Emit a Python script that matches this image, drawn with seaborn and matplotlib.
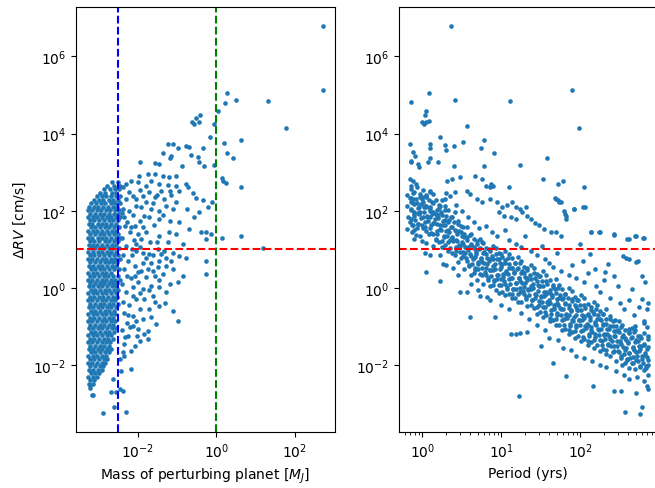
import numpy as np
import pandas as pd
from matplotlib import pyplot as plt
import seaborn as sns

# all values are log10

# left panel, dense blob of small planets: (log dRV, [log mass, ...]) per row
left_core_rows = [
    (2.74, [-2.66, -2.50]),
    (2.65, [-2.78, -2.59, -2.45]),
    (2.56, [-2.86, -2.71, -2.57, -2.47]),
    (2.47, [-2.97, -2.83, -2.66, -2.54]),
    (2.38, [-3.04, -2.91, -2.80, -2.67, -2.55, -2.44]),
    (2.29, [-3.12, -2.99, -2.88, -2.73, -2.62, -2.50]),
    (2.20, [-3.18, -3.05, -2.94, -2.83, -2.69, -2.57, -2.46]),
    (2.11, [-3.23, -3.11, -3.00, -2.87, -2.76, -2.64, -2.52]),
    (2.02, [-3.26, -3.16, -3.03, -2.93, -2.80, -2.70, -2.58, -2.47]),
    (1.93, [-3.21, -3.09, -2.97, -2.86, -2.74, -2.61, -2.51]),
    (1.84, [-3.27, -3.14, -3.04, -2.91, -2.79, -2.68, -2.55, -2.45]),
    (1.75, [-3.22, -3.10, -2.98, -2.85, -2.73, -2.62, -2.50]),
    (1.66, [-3.25, -3.15, -3.02, -2.90, -2.80, -2.67, -2.56]),
    (1.57, [-3.20, -3.08, -2.96, -2.84, -2.72, -2.59, -2.48]),
    (1.48, [-3.26, -3.13, -3.03, -2.92, -2.78, -2.66, -2.54]),
    (1.39, [-3.22, -3.09, -2.97, -2.86, -2.74, -2.61, -2.49]),
    (1.30, [-3.27, -3.15, -3.02, -2.90, -2.80, -2.68, -2.56, -2.45]),
    (1.21, [-3.21, -3.10, -2.98, -2.84, -2.72, -2.60, -2.50]),
    (1.12, [-3.25, -3.13, -3.04, -2.91, -2.79, -2.66, -2.54]),
    (1.03, [-3.20, -3.08, -2.95, -2.85, -2.73, -2.62, -2.48]),
    (0.94, [-3.26, -3.14, -3.01, -2.90, -2.77, -2.67, -2.55]),
    (0.85, [-3.22, -3.10, -2.98, -2.86, -2.74, -2.61, -2.50]),
    (0.76, [-3.27, -3.16, -3.04, -2.92, -2.80, -2.69, -2.57, -2.46]),
    (0.67, [-3.21, -3.09, -2.97, -2.84, -2.73, -2.63, -2.52]),
    (0.58, [-3.25, -3.13, -3.02, -2.90, -2.78, -2.66, -2.55]),
    (0.49, [-3.20, -3.08, -2.96, -2.85, -2.72, -2.60, -2.48]),
    (0.40, [-3.26, -3.14, -3.03, -2.91, -2.80, -2.67]),
    (0.31, [-3.22, -3.10, -2.99, -2.86, -2.75, -2.62, -2.51]),
    (0.22, [-3.27, -3.15, -3.04, -2.92, -2.81, -2.69, -2.57, -2.46]),
    (0.13, [-3.21, -3.09, -2.97, -2.85, -2.74, -2.63, -2.52]),
    (0.04, [-3.25, -3.13, -3.02, -2.90, -2.79, -2.66, -2.55]),
    (-0.05, [-3.20, -3.08, -2.96, -2.84, -2.72, -2.61, -2.49]),
    (-0.14, [-3.26, -3.14, -3.03, -2.91, -2.80, -2.68, -2.56]),
    (-0.23, [-3.22, -3.10, -2.98, -2.87, -2.75, -2.63, -2.52]),
    (-0.32, [-3.27, -3.15, -3.04, -2.92, -2.81, -2.69, -2.58]),
    (-0.41, [-3.21, -3.09, -2.97, -2.85, -2.73, -2.62, -2.50]),
    (-0.50, [-3.25, -3.13, -3.02, -2.90, -2.79, -2.67, -2.55]),
    (-0.59, [-3.20, -3.08, -2.96, -2.84, -2.72, -2.60]),
    (-0.68, [-3.26, -3.14, -3.03, -2.91, -2.80, -2.68, -2.57]),
    (-0.77, [-3.22, -3.10, -2.98, -2.86, -2.74, -2.62]),
    (-0.86, [-3.27, -3.15, -3.04, -2.92, -2.81, -2.69, -2.58]),
    (-0.95, [-3.21, -3.09, -2.97, -2.85, -2.73, -2.63]),
    (-1.04, [-3.25, -3.13, -3.02, -2.90, -2.78, -2.66, -2.56]),
    (-1.13, [-3.20, -3.08, -2.96, -2.84, -2.72, -2.61]),
    (-1.22, [-3.26, -3.14, -3.03, -2.91, -2.79, -2.68]),
    (-1.31, [-3.22, -3.10, -2.98, -2.86, -2.75, -2.64]),
    (-1.40, [-3.27, -3.15, -3.04, -2.92, -2.81, -2.70]),
    (-1.49, [-3.21, -3.09, -2.97, -2.85, -2.74]),
    (-1.58, [-3.25, -3.13, -3.02, -2.90, -2.79, -2.68]),
    (-1.67, [-3.20, -3.08, -2.96, -2.84, -2.73]),
    (-1.76, [-3.26, -3.14, -3.03, -2.91, -2.80]),
    (-1.85, [-3.22, -3.10, -2.98, -2.86, -2.77]),
    (-1.94, [-3.27, -3.15, -3.04, -2.92, -2.83]),
    (-2.03, [-3.21, -3.09, -2.97, -2.87]),
    (-2.12, [-3.25, -3.13, -3.02, -2.92]),
    (-2.21, [-3.20, -3.08, -2.98]),
    (-2.30, [-3.26, -3.14, -3.03]),
    (-2.39, [-3.22, -3.10]),
    (-2.48, [-3.25, -3.13]),
    (-2.58, [-3.21]),
]

# left panel, scattered planets: (log mass, log dRV)
left_spread = [
    (-1.93, 3.26), (-1.55, 3.24), (-1.45, 3.22), (-0.87, 3.17), (-0.45, 3.26),
    (-0.31, 3.15), (-0.07, 3.19), (0.18, 2.78), (0.25, 2.72), (0.14, 2.84),
    (-1.97, 2.91), (-1.74, 2.95), (-1.57, 2.95), (-1.36, 2.91), (-1.21, 2.87),
    (-1.02, 2.89), (-0.77, 2.69), (-0.73, 2.63), (-2.00, 2.74), (-1.66, 2.78),
    (-1.45, 2.69), (-1.24, 2.67), (-1.02, 2.65), (-0.94, 2.52), (-1.19, 2.52),
    (-1.40, 2.52), (-1.70, 2.48), (-1.87, 2.39), (-1.57, 2.35), (-1.32, 2.31),
    (-1.02, 2.22), (-0.52, 2.32), (-0.33, 2.29), (-0.11, 2.24), (-0.20, 2.09),
    (-0.45, 1.98), (-0.56, 1.83), (-1.28, 2.13), (-1.45, 2.00), (-1.66, 2.05),
    (-1.83, 1.87), (-1.95, 1.74), (-1.70, 1.83), (-1.45, 1.79), (-1.19, 1.74),
    (-0.94, 1.70), (-0.69, 1.53), (-1.02, 1.40), (-1.45, 1.36), (-1.78, 1.44),
    (-1.91, 1.27), (-2.04, 1.14), (-2.08, 1.61), (-2.17, 1.57), (-2.27, 1.70),
    (-2.34, 1.83), (-2.38, 2.05), (-2.29, 2.31), (-2.21, 2.48), (-2.38, 2.61),
    (-2.29, 2.69), (-2.17, 2.78), (-2.12, 2.39), (-2.04, 2.13), (-0.39, 1.46),
    (-0.26, 1.46), (-0.13, 1.40), (-0.26, 1.27), (0.14, 1.29), (-0.26, 0.71),
    (-0.25, 0.36), (-2.04, 0.97), (-1.87, 0.92), (-1.70, 0.88), (-1.49, 1.01),
    (-1.32, 0.97), (-1.11, 0.92), (-0.94, 0.84), (-0.77, 0.79), (-1.28, 0.79),
    (-1.45, 0.71), (-1.66, 0.66), (-1.87, 0.66), (-2.08, 0.58), (-2.00, 0.41),
    (-1.74, 0.49), (-1.49, 0.55), (-1.28, 0.58), (-1.11, 0.49), (-1.36, 0.36),
    (-1.57, 0.32), (-1.78, 0.28), (-2.00, 0.15), (-2.12, 0.02), (-1.87, -0.03),
    (-1.66, 0.06), (-1.45, 0.02), (-1.19, 0.10), (-0.98, 0.15), (-0.85, 0.32),
    (-1.62, -0.20), (-1.83, -0.28), (-2.04, -0.28), (-1.45, -0.46), (-1.28, -0.11),
    (-1.11, -0.59), (-2.12, -0.72), (-1.87, -0.80), (-0.98, -0.85), (-1.53, -0.93),
    (-2.12, -0.98), (-2.00, -1.06), (-1.74, -1.11), (-1.95, -1.36), (-1.74, -1.32),
    (-2.08, -1.49), (-2.17, -1.62), (-2.38, -1.67), (-2.17, -2.10), (-2.34, -1.75),
    (-2.42, -2.14), (-2.63, -2.36), (-2.55, -2.70), (-3.14, -2.77), (-2.89, -3.24),
    (-2.59, -3.09), (-2.29, -3.22), (-2.38, -2.66), (-2.46, -2.62), (-3.16, -2.76),
    (-2.69, -2.69), (-3.22, -2.51), (-2.40, 1.95), (-2.32, 1.60), (-2.40, 1.30),
    (-2.30, 1.10), (-2.38, 0.85), (-2.25, 0.70), (-2.36, 0.50), (-2.28, 0.30),
    (-2.40, 0.10), (-2.30, -0.10), (-2.38, -0.35), (-2.22, -0.45), (-2.35, -0.65),
    (-2.28, -0.90), (-2.40, -1.10), (-2.25, -1.25), (-2.36, -1.45), (-2.20, 1.45),
    (-2.15, 0.85), (-2.18, 0.25), (-2.12, -0.20), (-2.10, 1.25), (-2.22, 2.00),
    (-2.15, 1.02), (-2.25, -0.70), (-2.19, -1.02), (-2.33, -1.28), (-2.45, -1.85),
    (-2.05, 2.30), (-1.92, 2.10), (-1.80, 2.22), (-1.62, 2.20), (-1.50, 2.40),
    (-1.15, 2.40), (-1.10, 2.05), (-1.35, 1.90), (-1.58, 1.62), (-1.86, 1.58),
    (-2.00, 1.40), (-1.68, 1.20), (-1.50, 1.18), (-1.22, 1.20), (-0.85, 1.15),
    (-1.95, 1.05), (-1.80, 0.78), (-1.60, 0.85), (-1.40, 0.88), (-1.15, 0.70),
    (-1.92, 0.45), (-1.62, 0.45), (-1.45, 0.20), (-1.70, -0.05), (-1.95, -0.12),
    (-1.55, -0.35), (-1.72, -0.55), (-1.95, -0.55), (-1.30, -0.40), (-2.05, -0.85),
    (-1.65, -0.75), (-1.85, -1.20), (-2.02, -1.25), (-2.12, 1.90), (-1.95, 2.55),
    (-1.80, 2.65), (-2.08, 0.30), (-1.20, 1.45), (-0.75, 2.05), (-0.60, 2.45),
]

# left panel, massive perturbers
left_outliers = [
    (2.72, 6.80), (2.72, 5.14), (0.27, 5.05), (0.51, 4.87), (0.22, 4.80),
    (1.32, 4.84), (1.78, 4.15), (0.04, 4.58), (-0.05, 4.25), (-0.42, 4.47),
    (-0.52, 4.40), (-0.62, 4.29), (-0.56, 4.26), (-0.45, 4.31), (-0.17, 3.90),
    (0.19, 3.77), (0.64, 3.84), (-0.33, 3.62), (0.27, 3.51), (0.43, 3.38),
    (-0.46, 3.40), (-0.65, 3.44), (-0.77, 3.68), (-0.69, 3.66), (-1.24, 3.73),
    (-1.11, 3.72), (-0.98, 3.62), (-1.35, 3.51), (-1.14, 3.43), (-1.18, 3.36),
    (0.64, 2.61), (0.64, 1.34), (1.18, 1.04),
]

# right panel, main band: (log period, log dRV)
right_band = [
    (-0.15, 2.57), (-0.19, 2.41), (-0.16, 2.33), (-0.20, 2.12), (-0.14, 2.02),
    (-0.18, 1.85), (-0.16, 1.71), (-0.19, 1.52), (-0.13, 1.44),
    (-0.07, 2.61), (-0.11, 2.49), (-0.08, 2.30), (-0.12, 2.21), (-0.06, 2.07),
    (-0.10, 1.96), (-0.09, 1.77), (-0.05, 1.66), (-0.11, 1.50), (-0.08, 1.38),
    (-0.12, 1.62),
    (0.01, 2.55), (-0.03, 2.44), (0.00, 2.36), (-0.02, 2.18), (0.02, 2.09),
    (-0.04, 1.91), (0.01, 1.83), (-0.01, 1.64), (0.03, 1.57), (-0.03, 1.35),
    (0.00, 1.22),
    (0.09, 2.52), (0.05, 2.40), (0.08, 2.27), (0.04, 2.13), (0.10, 1.99),
    (0.06, 1.86), (0.07, 1.74), (0.11, 1.63), (0.05, 1.49), (0.08, 1.41),
    (0.04, 1.16),
    (0.13, 2.43), (0.17, 2.29), (0.14, 2.21), (0.18, 2.02), (0.12, 1.93),
    (0.16, 1.78), (0.15, 1.68), (0.19, 1.47), (0.13, 1.39), (0.17, 1.25),
    (0.14, 1.09),
    (0.25, 2.28), (0.21, 2.15), (0.24, 1.97), (0.20, 1.90), (0.26, 1.74),
    (0.22, 1.62), (0.23, 1.51), (0.27, 1.33), (0.21, 1.19), (0.25, 1.07),
    (0.22, 0.86),
    (0.29, 2.12), (0.33, 2.03), (0.30, 1.86), (0.34, 1.77), (0.28, 1.64),
    (0.32, 1.50), (0.31, 1.36), (0.35, 1.24), (0.29, 1.11), (0.33, 0.97),
    (0.41, 1.98), (0.37, 1.84), (0.40, 1.71), (0.36, 1.58), (0.42, 1.47),
    (0.38, 1.30), (0.39, 1.22), (0.43, 1.05), (0.37, 0.91),
    (0.45, 1.73), (0.49, 1.60), (0.46, 1.48), (0.50, 1.35), (0.44, 1.21),
    (0.48, 1.10), (0.47, 0.94), (0.51, 0.83), (0.45, 0.67),
    (0.57, 1.57), (0.53, 1.41), (0.56, 1.33), (0.52, 1.15), (0.58, 1.06),
    (0.54, 0.90), (0.55, 0.78), (0.59, 0.60), (0.53, 0.49),
    (0.61, 1.40), (0.65, 1.28), (0.62, 1.13), (0.66, 1.02), (0.60, 0.88),
    (0.64, 0.75), (0.63, 0.63), (0.67, 0.47), (0.61, 0.35),
    (0.73, 1.27), (0.69, 1.14), (0.72, 1.01), (0.68, 0.87), (0.74, 0.76),
    (0.70, 0.61), (0.71, 0.50), (0.75, 0.33), (0.69, 0.22),
    (0.77, 1.17), (0.81, 1.03), (0.78, 0.94), (0.82, 0.78), (0.76, 0.67),
    (0.80, 0.52), (0.79, 0.41), (0.83, 0.27), (0.77, 0.11),
    (0.89, 1.10), (0.85, 0.97), (0.88, 0.84), (0.84, 0.71), (0.90, 0.58),
    (0.86, 0.46), (0.87, 0.32), (0.91, 0.19), (0.85, 0.04),
    (0.93, 1.03), (0.97, 0.90), (0.94, 0.74), (0.98, 0.64), (0.92, 0.50),
    (0.96, 0.35), (0.95, 0.24), (0.99, 0.08), (0.93, -0.05), (0.97, -0.14),
    (1.05, 0.97), (1.01, 0.81), (1.04, 0.72), (1.00, 0.55), (1.06, 0.45),
    (1.02, 0.29), (1.03, 0.19), (1.07, 0.03), (1.01, -0.09), (1.05, -0.19),
    (1.09, 0.88), (1.13, 0.79), (1.10, 0.62), (1.14, 0.53), (1.08, 0.36),
    (1.12, 0.26), (1.11, 0.10), (1.15, -0.02), (1.09, -0.16), (1.13, -0.25),
    (1.21, 0.80), (1.17, 0.66), (1.20, 0.50), (1.16, 0.41), (1.22, 0.25),
    (1.18, 0.14), (1.19, -0.02), (1.23, -0.11), (1.17, -0.27), (1.21, -0.35),
    (1.25, 0.71), (1.29, 0.55), (1.26, 0.45), (1.30, 0.29), (1.24, 0.19),
    (1.28, 0.03), (1.27, -0.07), (1.31, -0.23), (1.25, -0.36),
    (1.37, 0.60), (1.33, 0.48), (1.36, 0.33), (1.32, 0.22), (1.38, 0.06),
    (1.34, -0.05), (1.35, -0.19), (1.39, -0.31), (1.33, -0.46),
    (1.41, 0.52), (1.45, 0.36), (1.42, 0.25), (1.46, 0.09), (1.40, 0.00),
    (1.44, -0.17), (1.43, -0.26), (1.47, -0.43), (1.41, -0.53), (1.45, -0.68),
    (1.53, 0.43), (1.49, 0.30), (1.52, 0.17), (1.48, 0.04), (1.54, -0.09),
    (1.50, -0.22), (1.51, -0.35), (1.55, -0.48), (1.49, -0.62), (1.53, -0.76),
    (1.57, 0.35), (1.61, 0.21), (1.58, 0.10), (1.62, -0.05), (1.56, -0.15),
    (1.60, -0.30), (1.59, -0.42), (1.63, -0.57), (1.57, -0.70), (1.61, -0.86),
    (1.69, 0.24), (1.65, 0.08), (1.68, -0.02), (1.64, -0.18), (1.70, -0.28),
    (1.66, -0.44), (1.67, -0.55), (1.71, -0.71), (1.65, -0.82), (1.69, -0.97),
    (1.73, 0.09), (1.77, -0.02), (1.74, -0.18), (1.78, -0.27), (1.72, -0.43),
    (1.76, -0.54), (1.75, -0.70), (1.79, -0.80), (1.73, -0.96), (1.77, -1.09),
    (1.85, -0.01), (1.81, -0.15), (1.84, -0.26), (1.80, -0.40), (1.86, -0.52),
    (1.82, -0.66), (1.83, -0.78), (1.87, -0.92), (1.81, -1.05), (1.85, -1.20),
    (1.89, -0.08), (1.93, -0.24), (1.90, -0.33), (1.94, -0.49), (1.88, -0.60),
    (1.92, -0.75), (1.91, -0.86), (1.95, -1.02), (1.89, -1.13), (1.93, -1.30),
    (2.01, -0.19), (1.97, -0.30), (2.00, -0.45), (1.96, -0.56), (2.02, -0.71),
    (1.98, -0.82), (1.99, -0.97), (2.03, -1.08), (1.97, -1.24), (2.01, -1.37),
    (2.05, -0.27), (2.09, -0.41), (2.06, -0.52), (2.10, -0.67), (2.04, -0.78),
    (2.08, -0.93), (2.07, -1.04), (2.11, -1.19), (2.05, -1.31), (2.09, -1.47),
    (2.17, -0.36), (2.13, -0.50), (2.16, -0.62), (2.12, -0.76), (2.18, -0.88),
    (2.14, -1.02), (2.15, -1.13), (2.19, -1.28), (2.13, -1.40), (2.17, -1.55),
    (2.21, -0.44), (2.25, -0.59), (2.22, -0.70), (2.26, -0.84), (2.20, -0.96),
    (2.24, -1.10), (2.23, -1.21), (2.27, -1.36), (2.21, -1.48), (2.25, -1.62),
    (2.33, -0.55), (2.29, -0.68), (2.32, -0.80), (2.28, -0.95), (2.34, -1.06),
    (2.30, -1.20), (2.31, -1.32), (2.35, -1.46), (2.29, -1.57), (2.33, -1.71),
    (2.37, -0.72), (2.41, -0.85), (2.38, -0.98), (2.42, -1.11), (2.36, -1.24),
    (2.40, -1.37), (2.39, -1.50), (2.43, -1.63), (2.37, -1.77),
    (2.49, -0.86), (2.45, -0.99), (2.48, -1.10), (2.44, -1.25), (2.50, -1.36),
    (2.46, -1.50), (2.47, -1.62), (2.51, -1.76), (2.45, -1.88),
    (2.53, -0.95), (2.57, -1.10), (2.54, -1.21), (2.58, -1.35), (2.52, -1.46),
    (2.56, -1.61), (2.55, -1.72), (2.59, -1.87), (2.53, -1.99),
    (2.65, -1.03), (2.61, -1.17), (2.64, -1.29), (2.60, -1.43), (2.66, -1.55),
    (2.62, -1.69), (2.63, -1.81), (2.67, -1.95), (2.61, -2.06),
    (2.69, -1.09), (2.73, -1.24), (2.70, -1.35), (2.74, -1.50), (2.68, -1.61),
    (2.72, -1.76), (2.71, -1.87), (2.75, -2.01), (2.69, -2.11),
    (2.81, -1.17), (2.77, -1.30), (2.80, -1.44), (2.76, -1.57), (2.82, -1.69),
    (2.78, -1.83), (2.79, -1.95), (2.83, -2.08),
    (2.85, -1.25), (2.86, -1.52), (2.84, -1.78), (2.86, -2.00),
]

# right panel, denser middle of the band: (log period, log dRV)
right_band_core = [
    (-0.12, 2.45), (-0.15, 2.32), (-0.11, 2.18), (-0.14, 2.06), (-0.10, 1.91), (-0.15, 1.78), (-0.13, 1.64),
    (-0.03, 2.36), (-0.07, 2.21), (-0.04, 2.09), (-0.06, 1.95), (-0.02, 1.82), (-0.05, 1.67), (-0.07, 1.55),
    (0.04, 2.36), (0.01, 2.22), (0.05, 2.09), (0.02, 1.96), (0.06, 1.83), (0.03, 1.70), (0.01, 1.55),
    (0.12, 2.23), (0.09, 2.10), (0.13, 1.96), (0.10, 1.84), (0.14, 1.69), (0.09, 1.56), (0.11, 1.42),
    (0.21, 2.08), (0.17, 1.93), (0.20, 1.81), (0.18, 1.67), (0.22, 1.54), (0.19, 1.39), (0.17, 1.27),
    (0.28, 2.02), (0.25, 1.88), (0.29, 1.75), (0.26, 1.62), (0.30, 1.49), (0.27, 1.36), (0.25, 1.21),
    (0.36, 1.85), (0.33, 1.72), (0.37, 1.58), (0.34, 1.46), (0.38, 1.31), (0.33, 1.18), (0.35, 1.04),
    (0.45, 1.66), (0.41, 1.51), (0.44, 1.39), (0.42, 1.25), (0.46, 1.12), (0.43, 0.97), (0.41, 0.85),
    (0.52, 1.59), (0.49, 1.45), (0.53, 1.32), (0.50, 1.19), (0.54, 1.06), (0.51, 0.93), (0.49, 0.78),
    (0.60, 1.38), (0.57, 1.25), (0.61, 1.11), (0.58, 0.99), (0.62, 0.84), (0.57, 0.71), (0.59, 0.57),
    (0.69, 1.21), (0.65, 1.06), (0.68, 0.94), (0.66, 0.80), (0.70, 0.67), (0.67, 0.52), (0.65, 0.40),
    (0.76, 1.18), (0.73, 1.04), (0.77, 0.91), (0.74, 0.78), (0.78, 0.65), (0.75, 0.52), (0.73, 0.37),
    (0.84, 1.02), (0.81, 0.89), (0.85, 0.75), (0.82, 0.63), (0.86, 0.48), (0.81, 0.35), (0.83, 0.21),
    (0.93, 0.89), (0.89, 0.74), (0.92, 0.62), (0.90, 0.48), (0.94, 0.35), (0.91, 0.20), (0.89, 0.08),
    (1.00, 0.89), (0.97, 0.75), (1.01, 0.62), (0.98, 0.49), (1.02, 0.36), (0.99, 0.23), (0.97, 0.08),
    (1.08, 0.78), (1.05, 0.65), (1.09, 0.51), (1.06, 0.39), (1.10, 0.24), (1.05, 0.11), (1.07, -0.03),
    (1.17, 0.66), (1.13, 0.51), (1.16, 0.39), (1.14, 0.25), (1.18, 0.12), (1.15, -0.03), (1.13, -0.15),
    (1.24, 0.66), (1.21, 0.52), (1.25, 0.39), (1.22, 0.26), (1.26, 0.13), (1.23, 0.00), (1.21, -0.15),
    (1.32, 0.52), (1.29, 0.39), (1.33, 0.25), (1.30, 0.13), (1.34, -0.02), (1.29, -0.15), (1.31, -0.29),
    (1.41, 0.38), (1.37, 0.23), (1.40, 0.11), (1.38, -0.03), (1.42, -0.16), (1.39, -0.31), (1.37, -0.43),
    (1.48, 0.32), (1.45, 0.18), (1.49, 0.05), (1.46, -0.08), (1.50, -0.21), (1.47, -0.34), (1.45, -0.49),
    (1.56, 0.18), (1.53, 0.05), (1.57, -0.09), (1.54, -0.21), (1.58, -0.36), (1.53, -0.49), (1.55, -0.63),
    (1.65, 0.03), (1.61, -0.12), (1.64, -0.24), (1.62, -0.38), (1.66, -0.51), (1.63, -0.66), (1.61, -0.78),
    (1.72, 0.01), (1.69, -0.13), (1.73, -0.26), (1.70, -0.39), (1.74, -0.52), (1.71, -0.65), (1.69, -0.80),
    (1.80, -0.15), (1.77, -0.28), (1.81, -0.42), (1.78, -0.54), (1.82, -0.69), (1.77, -0.82), (1.79, -0.96),
    (1.89, -0.29), (1.85, -0.44), (1.88, -0.56), (1.86, -0.70), (1.90, -0.83), (1.87, -0.98), (1.85, -1.10),
    (1.96, -0.31), (1.93, -0.45), (1.97, -0.58), (1.94, -0.71), (1.98, -0.84), (1.95, -0.97), (1.93, -1.12),
    (2.04, -0.45), (2.01, -0.58), (2.05, -0.72), (2.02, -0.84), (2.06, -0.99), (2.01, -1.12), (2.03, -1.26),
    (2.13, -0.56), (2.09, -0.71), (2.12, -0.83), (2.10, -0.97), (2.14, -1.10), (2.11, -1.25), (2.09, -1.37),
    (2.20, -0.54), (2.17, -0.68), (2.21, -0.81), (2.18, -0.94), (2.22, -1.07), (2.19, -1.20), (2.17, -1.35),
    (2.28, -0.67), (2.25, -0.80), (2.29, -0.94), (2.26, -1.06), (2.30, -1.21), (2.25, -1.34), (2.27, -1.48),
    (2.37, -0.79), (2.33, -0.94), (2.36, -1.06), (2.34, -1.20), (2.38, -1.33), (2.35, -1.48), (2.33, -1.60),
    (2.44, -0.84), (2.41, -0.98), (2.45, -1.11), (2.42, -1.24), (2.46, -1.37), (2.43, -1.50), (2.41, -1.65),
    (2.52, -1.00), (2.49, -1.13), (2.53, -1.27), (2.50, -1.39), (2.54, -1.54), (2.49, -1.67), (2.51, -1.81),
    (2.61, -1.14), (2.57, -1.29), (2.60, -1.41), (2.58, -1.55), (2.62, -1.68), (2.59, -1.83), (2.57, -1.95),
    (2.68, -1.13), (2.65, -1.27), (2.69, -1.40), (2.66, -1.53), (2.70, -1.66), (2.67, -1.79), (2.65, -1.94),
    (2.76, -1.23), (2.73, -1.36), (2.77, -1.50), (2.74, -1.62), (2.78, -1.77), (2.73, -1.90), (2.75, -2.04),
    (2.85, -1.32), (2.81, -1.47), (2.84, -1.59), (2.82, -1.73), (2.86, -1.86), (2.83, -2.01), (2.81, -2.13),
]

# right panel, scattered points around the band: (log period, log dRV)
right_scatter = [
    (-0.16, 2.82), (-0.12, 2.78), (-0.14, 2.65), (-0.08, 2.69), (-0.12, 2.31),
    (-0.15, 2.22), (-0.01, 2.31), (0.05, 2.39), (0.09, 2.48), (0.03, 2.13),
    (0.09, 2.05), (-0.03, 1.96), (-0.10, 1.87), (0.18, 1.87), (0.22, 2.13),
    (0.29, 2.31), (0.35, 2.39), (0.41, 2.48), (0.31, 2.78), (0.37, 2.82),
    (0.47, 2.87), (0.56, 2.52), (0.60, 2.44), (0.69, 2.31), (0.75, 2.22),
    (0.81, 2.65), (0.86, 2.31), (0.95, 2.22), (1.01, 2.09), (1.07, 2.15),
    (1.14, 2.22), (1.18, 2.09), (1.24, 2.06), (1.31, 2.09), (0.97, 1.96),
    (1.03, 1.87), (1.12, 1.83), (1.18, 1.79), (1.26, 1.96), (1.33, 1.87),
    (1.37, 1.79), (1.42, 1.69), (1.48, 1.62), (1.54, 1.53), (1.63, 1.44),
    (1.69, 1.44), (1.75, 1.36), (2.14, 1.44), (2.24, 1.44), (2.43, 1.40),
    (2.61, 1.27), (2.69, 1.36), (2.80, 1.29), (2.54, 0.84), (2.61, 0.75),
    (2.73, 0.71), (2.78, 0.32), (2.82, 0.15), (2.65, -0.03), (2.48, 0.06),
    (2.35, 0.62), (2.31, 0.41), (2.03, 2.09), (1.92, 2.05), (1.80, 1.92),
    (1.82, 1.79), (1.69, 2.31), (1.73, 2.24), (2.12, 0.88), (2.03, 0.71),
    (2.18, 0.49), (2.78, -0.28), (2.84, -0.54), (2.80, -0.85), (2.69, -0.98),
    (2.61, -1.06), (0.30, 2.45), (0.42, 2.15), (0.50, 2.00), (0.58, 1.85),
    (0.65, 1.70), (0.72, 1.55), (0.80, 1.60), (0.88, 1.45), (0.95, 1.35),
    (1.05, 1.50), (1.10, 1.25), (1.18, 1.15), (1.25, 1.05), (1.30, 1.35),
    (1.38, 0.95), (1.45, 0.85), (1.52, 1.10), (1.55, 0.75), (1.60, 0.65),
    (1.65, 0.55), (1.70, 0.90), (1.75, 0.45), (1.85, 0.35), (1.90, 0.60),
    (1.95, 0.25), (2.00, 1.15), (2.05, 0.15), (2.10, 0.40), (2.20, 0.05),
    (2.25, -0.10), (2.30, 0.20), (2.38, -0.25), (2.42, 0.30), (2.50, -0.40),
    (2.55, -0.55), (2.62, -0.30), (2.68, -0.70), (2.74, -0.50), (2.80, -0.90),
    (2.85, -0.40), (2.84, -1.00), (0.10, 0.85), (0.30, 0.60), (0.45, 0.35),
    (0.62, 0.10), (0.70, -0.05), (0.85, -0.30), (1.00, -0.45), (1.10, -0.55),
    (1.25, -0.65), (1.35, -0.80), (1.45, -0.95), (1.55, -1.10), (1.60, -1.30),
    (1.72, -1.35), (1.78, -1.55), (1.88, -1.60), (1.95, -1.75), (2.05, -1.80),
    (2.15, -1.90), (2.25, -2.00), (2.32, -2.05), (2.45, -2.15), (2.55, -2.25),
    (2.62, -2.35), (2.72, -2.30), (2.80, -2.40), (2.85, -2.25), (0.60, -0.76),
    (0.92, -0.76), (1.12, -1.19), (1.18, -1.19), (1.24, -1.17), (1.33, -1.13),
    (1.22, -2.79), (1.50, -1.49), (1.65, -1.93), (1.82, -2.27), (2.16, -2.53),
    (2.43, -2.66), (2.52, -2.66), (2.56, -3.22), (2.75, -3.26), (2.85, -2.62),
    (0.22, 0.19), (0.05, 0.41), (0.48, -0.11), (0.56, -0.11), (0.73, -0.20),
    (0.82, -0.24), (-0.10, 1.27), (0.03, 0.92), (0.26, 0.62), (0.39, 0.53),
    (2.78, -3.07), (2.70, -2.71), (2.84, -2.53), (2.58, 0.79), (2.71, 0.67),
]

# right panel, isolated high points
right_outliers = [
    (0.36, 6.80), (0.085, 5.05), (-0.15, 4.81), (0.41, 4.87), (1.11, 4.84),
    (1.89, 5.14), (1.98, 4.15), (0.04, 4.59), (0.03, 4.49), (0.00, 4.31),
    (0.05, 4.29), (0.085, 4.32), (0.02, 4.25), (0.56, 4.20), (0.51, 3.79),
    (0.78, 3.84), (0.40, 3.69), (0.74, 3.62), (-0.16, 3.73), (0.10, 3.73),
    (0.10, 3.63), (0.29, 3.71), (0.30, 3.58), (0.91, 3.51), (1.58, 3.37),
    (-0.12, 3.52), (-0.09, 3.43), (0.22, 3.90), (-0.15, 3.30), (-0.14, 3.26),
    (-0.04, 3.13), (-0.05, 3.21), (0.07, 3.26), (0.09, 3.36), (0.20, 3.27),
    (0.40, 3.17), (0.78, 3.17), (1.23, 3.19), (0.67, 2.91), (0.75, 2.82),
    (0.87, 2.69), (0.89, 2.65), (0.86, 2.63), (1.10, 2.63), (1.53, 2.82),
    (1.72, 2.69), (1.78, 2.76), (2.04, 2.61), (1.68, 2.32), (1.72, 2.28),
    (1.75, 2.24), (1.79, 2.00), (1.82, 1.86), (1.92, 2.05), (2.06, 2.09),
    (2.13, 1.44), (2.25, 1.44), (2.43, 1.38), (2.59, 1.27), (2.70, 1.34),
    (2.79, 1.29),
]

earth_mass_mj = 0.00315
jupiter_mass_mj = 1.0
rv_limit = 10.0

mass_ticks = [1e-2, 1e0, 1e2]
period_ticks = [1e0, 1e1, 1e2]
drv_ticks = [1e-2, 1e0, 1e2, 1e4, 1e6]

left_rows = [(m, d) for d, ms in left_core_rows for m in ms] + left_spread + left_outliers
left_df = pd.DataFrame(left_rows, columns=['log_mass', 'log_drv'])
left_df['mass'] = 10 ** left_df['log_mass']
left_df['drv'] = 10 ** left_df['log_drv']

right_df = pd.DataFrame(right_band + right_band_core + right_scatter + right_outliers,
                        columns=['log_period', 'log_drv'])
right_df['period'] = 10 ** right_df['log_period']
right_df['drv'] = 10 ** right_df['log_drv']

fig = plt.figure(figsize=(6.55, 4.89), dpi=100)
ax1 = fig.add_axes([0.116, 0.1145, 0.3954, 0.8691])
ax2 = fig.add_axes([0.6087, 0.1145, 0.3944, 0.8691])

for ax in (ax1, ax2):
    ax.set_xscale('log')
    ax.set_yscale('log')

sns.scatterplot(data=left_df, x='mass', y='drv', ax=ax1, s=11, linewidth=0, color='tab:blue')
ax1.axhline(rv_limit, color='r', linestyle='--', linewidth=1.5)
ax1.axvline(earth_mass_mj, color='b', linestyle='--', linewidth=1.5)
ax1.axvline(jupiter_mass_mj, color='g', linestyle='--', linewidth=1.5)
ax1.set_xticks(mass_ticks)
ax1.set_yticks(drv_ticks)
ax1.set_xlim(10 ** -3.57, 10 ** 3.02)
ax1.set_ylim(10 ** -3.73, 10 ** 7.28)
ax1.set_xlabel('Mass of perturbing planet [$M_J$]')
ax1.set_ylabel(r'$\Delta RV$ [cm/s]')

sns.scatterplot(data=right_df, x='period', y='drv', ax=ax2, s=11, linewidth=0, color='tab:blue')
ax2.axhline(rv_limit, color='r', linestyle='--', linewidth=1.5)
ax2.set_xticks(period_ticks)
ax2.set_yticks(drv_ticks)
ax2.set_xlim(10 ** -0.30, 10 ** 2.97)
ax2.set_ylim(10 ** -3.73, 10 ** 7.28)
ax2.set_xlabel('Period (yrs)')
ax2.set_ylabel('')

fig.savefig('out.png', dpi=100)
